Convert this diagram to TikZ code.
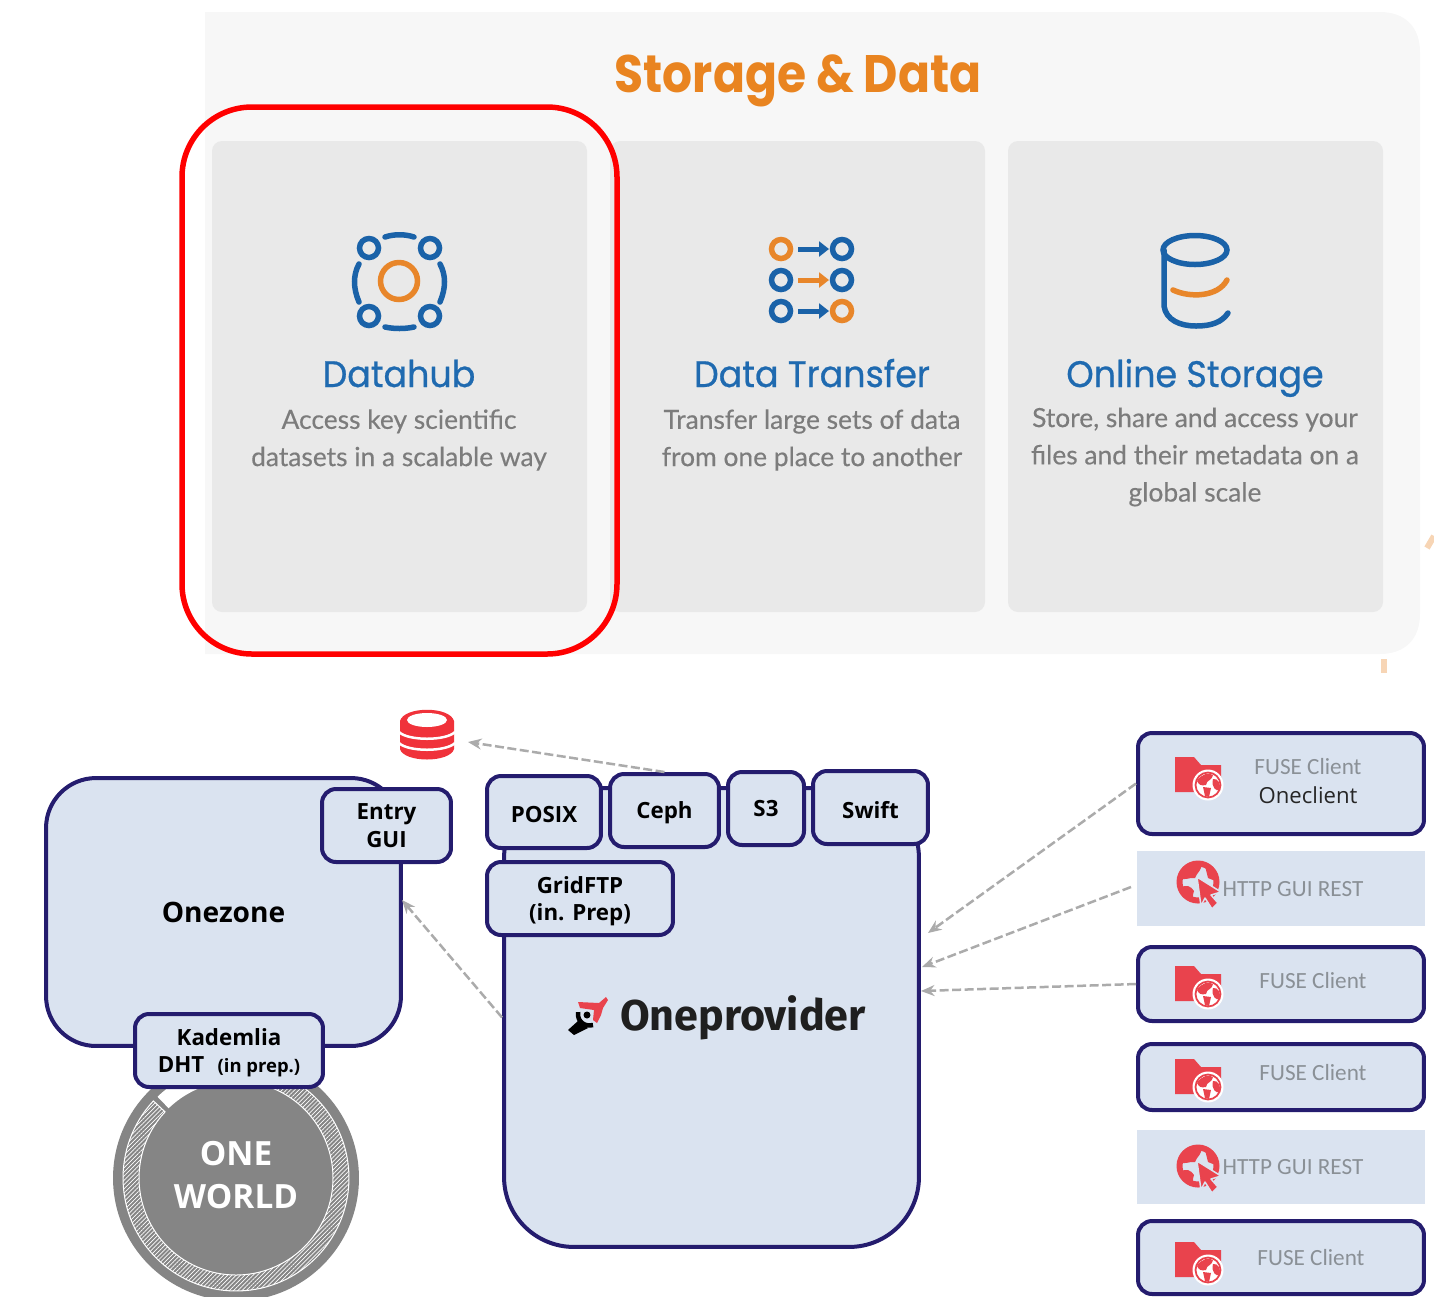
\documentclass[tikz,border=0pt]{standalone}
\usepackage{fontspec}
\usetikzlibrary{patterns.meta,arrows.meta}
\setmainfont{Open Sans}
\newfontfamily\titlefont[FakeStretch=0.895]{Poppins}
\newfontfamily\headfont[FakeStretch=0.945,FakeBold=0.7]{Poppins}
\newfontfamily\bodyfont[FakeBold=0.35]{Lato}
\newfontfamily\calfont{Carlito}
\newfontfamily\provfont{Fira Sans}
\newcommand{\lowered}{\rule{0pt}{12.5pt}}
\definecolor{navy}{HTML}{241C6E}
\definecolor{boxfill}{HTML}{DAE3F0}
\definecolor{panelbg}{HTML}{F7F7F7}
\definecolor{cardbg}{HTML}{E9E9E9}
\definecolor{iconblue}{HTML}{1A62A8}
\definecolor{iconorange}{HTML}{E8862A}
\definecolor{headblue}{HTML}{1F6AB0}
\definecolor{titleorange}{HTML}{E98420}
\definecolor{bodygray}{HTML}{7C7C7C}
\definecolor{iconred}{HTML}{E9434D}
\definecolor{dbred}{HTML}{F0323A}
\definecolor{dashgray}{HTML}{ABABAB}
\definecolor{labelgray}{HTML}{8A9096}
\definecolor{ringgray}{HTML}{858585}
\tikzset{
  cardbox/.style={fill=cardbg,rounded corners=0.2cm},
  navybox/.style={draw=navy,line width=0.08cm,fill=boxfill,rounded corners=0.28cm,inner sep=0pt,align=center,
     font=\fontsize{12.7}{15.6}\selectfont\bfseries,text=black},
  softbox/.style={fill=boxfill,inner sep=0pt},
  plaintext/.style={inner sep=0pt,align=center},
  cardhead/.style={plaintext,anchor=base,text=headblue,font=\headfont\fontsize{21}{25}\selectfont},
  cardtext/.style={plaintext,text=bodygray,font=\bodyfont\fontsize{15}{21.2}\selectfont},
  graylabel/.style={plaintext,text=labelgray,font=\calfont\fontsize{13.2}{15}\selectfont},
  dashlink/.style={draw=dashgray,line width=0.05cm,dash pattern=on 0.18cm off 0.07cm,
     -{Stealth[length=0.27cm,width=0.22cm]}},
  iconline/.style={draw=iconblue,line width=0.11cm,line cap=round},
  orangeline/.style={draw=iconorange,line width=0.11cm,line cap=round},
  folderglobe/.pic={
    \fill[iconred] (0,0) -- (19,0) -- (26,8) -- (46,8) -- (46,35) -- (0,35) -- cycle;
    \fill[white] (33,28) circle[radius=0.31cm];
    \draw[iconred,line width=0.035cm] (33,28) circle[radius=0.25cm];
    \fill[iconred] (22,24) .. controls (26,17) and (34,15) .. (38,18) .. controls (36,25) and (32,22) .. (31,28) .. controls (26,29) and (24,28) .. (22,24) -- cycle;
    \fill[iconred] (28,30) -- (36,31) -- (34,40) -- (30,39) -- cycle;
    \fill[iconred] (38,22) .. controls (43,21) and (46,27) .. (45,33) .. controls (41,35) and (36,30) .. (38,22) -- cycle;
  },
  webcursor/.pic={
    \draw[iconred,line width=0.12cm] (0,0) circle[radius=0.37cm];
    \fill[iconred] (-19,-4) .. controls (-12,-15) and (-5,-19) .. (3,-19) .. controls (5,-12) and (-1,-10) .. (-3,-4) .. controls (-9,-5) and (-12,-1) .. (-19,-4) -- cycle;
    \fill[iconred] (-18,6) .. controls (-12,2) and (-7,4) .. (-4,9) .. controls (-6,14) and (-4,16) .. (-7,19) .. controls (-12,16) and (-16,11) .. (-18,6) -- cycle;
    \fill[iconred] (7,-16) .. controls (13,-12) and (18,-6) .. (20,0) -- (10,-4) -- cycle;
    \filldraw[iconred,draw=boxfill,line width=0.03cm,line join=round] (-1,-5) -- (23,10) -- (13,13) -- (20,21) -- (14,27) -- (7,16) -- (3,24) -- cycle;
  },
}
\begin{document}
\begin{tikzpicture}[x=0.02cm,y=-0.02cm]
\useasboundingbox (0,0) rectangle (1434,1296);
\clip (0,0) rectangle (1434,1296);
% --- upper panel
\fill[panelbg] (205,12) -- (1380,12) .. controls (1405,12) and (1420,27) .. (1420,52) -- (1420,614) .. controls (1420,639) and (1405,654) .. (1380,654) -- (205,654) -- cycle;
\fill[cardbox] (212,141) rectangle (587,612);
\fill[cardbox] (610,141) rectangle (985,612);
\fill[cardbox] (1008,141) rectangle (1383,612);
\draw[iconorange!35,line width=0.12cm] (1427,548) -- (1434,536);
\draw[iconorange!35,line width=0.12cm] (1384,659) -- (1384,673);
\node[plaintext,text=titleorange,font=\titlefont\fontsize{30}{36}\selectfont\bfseries] (title) at (798,81) {Storage \& Data};
\node[cardhead] (hubhead) at (399,387) {Datahub};
\node[cardhead] (transferhead) at (812,387) {Data Transfer};
\node[cardhead] (storagehead) at (1195,387) {Online Storage};
\node[cardtext] (hubtext) at (399,440) {Access key scientific\\datasets in a scalable way};
\node[cardtext] (transfertext) at (812,440) {Transfer large sets of data\\from one place to another};
\node[cardtext] (storagetext) at (1195,457) {Store, share and access your\\files and their metadata on a\\global scale};
% datahub icon
\foreach \px/\py in {369/248,430/248,369/316,430/316}{\draw[iconline] (\px,\py) circle[radius=0.19cm];}
\draw[orangeline] (399,281) circle[radius=0.37cm];
\draw[iconline] (385,237) .. controls (394,234) and (405,234) .. (414,237);
\draw[iconline] (385,327) .. controls (394,329) and (405,329) .. (414,327);
\draw[iconline] (359,264) .. controls (353,275) and (353,288) .. (359,302);
\draw[iconline] (440,264) .. controls (446,275) and (446,288) .. (440,302);
% transfer icon
\foreach \py/\lc/\rc/\ac in {249/iconorange/iconblue/iconblue,280/iconblue/iconblue/iconorange,311/iconblue/iconorange/iconblue}{
  \draw[draw=\lc,line width=0.11cm] (781,\py) circle[radius=0.19cm];
  \draw[draw=\rc,line width=0.11cm] (842,\py) circle[radius=0.19cm];
  \draw[draw=\ac,line width=0.1cm,-{Triangle[length=0.2cm,width=0.3cm]}] (798,\py) -- (829,\py);
}
% storage icon
\draw[iconline] (1195,250) ellipse[x radius=0.64cm,y radius=0.29cm];
\draw[iconline] (1164,250) -- (1164,306) .. controls (1166,320) and (1180,326) .. (1196,326) .. controls (1212,326) and (1222,322) .. (1228,313);
\draw[orangeline] (1173,290) .. controls (1190,298) and (1218,297) .. (1227,280);
\draw[red,line width=0.11cm,rounded corners=1.4cm] (182,107) rectangle (617,654);
% --- lower diagram: database
\fill[dbred] (400,721) -- (400,749) .. controls (404,763) and (450,763) .. (454,749) -- (454,721) .. controls (450,706) and (404,706) .. (400,721) -- cycle;
\fill[white] (427,720) ellipse[x radius=0.4cm,y radius=0.14cm];
\draw[white,line width=0.05cm] (399,732) .. controls (408,741) and (446,741) .. (455,732);
\draw[white,line width=0.05cm] (399,743) .. controls (408,752) and (446,752) .. (455,743);
\coordinate (dbtip) at (468,742);
% one world
\fill[ringgray] (236,1178) circle[radius=2.46cm];
\fill[white] (236,1178) ++(134:2.26cm) arc[start angle=134,end angle=105,radius=2.26cm] -- ++(105:-0.32cm) arc[start angle=105,end angle=134,radius=1.94cm] -- cycle;
\path[draw=white,line width=0.02cm,pattern={Lines[angle=45,distance=1.7pt,line width=0.4pt]},pattern color=white] (236,1178) ++(137:2.26cm) arc[start angle=137,end angle=430,radius=2.26cm] -- ++(70:-0.32cm) arc[start angle=430,end angle=137,radius=1.94cm] -- cycle;
\node[plaintext,text=white,font=\fontsize{19}{24.5}\selectfont\bfseries] (world) at (236,1175) {ONE\\WORLD};
% servers
\node[navybox,rounded corners=1cm,minimum width=7.1cm,minimum height=5.36cm,font=\fontsize{16}{19}\selectfont\bfseries] (onezone) at (223.5,912) {Onezone};
\node[navybox,minimum width=2.58cm,minimum height=1.46cm] (entry) at (386.5,825.5) {Entry\\GUI};
\node[navybox,minimum width=3.76cm,minimum height=1.46cm] (kademlia) at (229,1050.5) {\lowered Kademlia\\DHT\hspace{0.6em}{\fontsize{10.5}{12}\selectfont (in prep.)}};
\node[navybox,rounded corners=1.4cm,minimum width=8.3cm,minimum height=9.18cm] (provider) at (711.5,1017.5) {};
\node[plaintext,font=\provfont\fontsize{24.5}{30}\selectfont\bfseries,text=black!88] (providername) at (743,1018) {Oneprovider};
\node[navybox,minimum width=2.28cm,minimum height=1.44cm] (posix) at (544,812) {\lowered POSIX};
\node[navybox,minimum width=2.18cm,minimum height=1.46cm] (ceph) at (664.5,810.5) {\lowered Ceph};
\node[navybox,minimum width=1.52cm,minimum height=1.46cm] (sthree) at (766,808.5) {S3};
\node[navybox,minimum width=2.3cm,minimum height=1.46cm] (swift) at (870.5,807.5) {\lowered Swift};
\node[navybox,minimum width=3.72cm,minimum height=1.46cm] (gridftp) at (580,898.5) {\lowered GridFTP\\(in. Prep)};
% oneprovider logo
\fill[iconred] (578,1002) -- (599,1003) -- (606,997) -- (608,1000) -- (603,1008) -- (601,1015) -- (597,1023) -- (593,1020) -- (594,1010) -- (580,1008) -- cycle;
\draw[black,line width=0.09cm] (578,1012) .. controls (577,1022) and (585,1027) .. (593,1025);
\fill[black] (587,1015) circle[radius=0.07cm];
\fill[black] (578,1021) -- (588,1028) -- (574,1035) -- (568,1030) -- cycle;
% clients
\node[navybox,minimum width=5.72cm,minimum height=2.02cm] (oneclient) at (1281,783.5) {};
\node[softbox,minimum width=5.76cm,minimum height=1.5cm] (httpa) at (1281,888.5) {};
\node[navybox,minimum width=5.72cm,minimum height=1.48cm] (fusea) at (1281,984) {};
\node[navybox,minimum width=5.72cm,minimum height=1.32cm] (fuseb) at (1281,1077) {};
\node[softbox,minimum width=5.76cm,minimum height=1.48cm] (httpb) at (1281,1167) {};
\node[navybox,minimum width=5.72cm,minimum height=1.46cm] (fusec) at (1281,1257.5) {};
\node[graylabel] (la) at (1308,767) {FUSE Client};
\node[plaintext,font=\fontsize{12.6}{15}\selectfont,text=black!85] (lb) at (1308,795) {Oneclient};
\node[graylabel] (lc) at (1293,889) {HTTP GUI REST};
\node[graylabel] (ld) at (1313,981) {FUSE Client};
\node[graylabel] (le) at (1313,1073) {FUSE Client};
\node[graylabel] (lf) at (1293,1167) {HTTP GUI REST};
\node[graylabel] (lg) at (1311,1258) {FUSE Client};
\pic at (1175,757) {folderglobe};
\pic at (1175,966) {folderglobe};
\pic at (1175,1059) {folderglobe};
\pic at (1175,1242) {folderglobe};
\pic at (1198,882) {webcursor};
\pic at (1198,1166) {webcursor};
% connectors
\coordinate (provtipa) at (928,933);
\coordinate (provtipb) at (922,967);
\coordinate (provtipc) at (921,991);
\coordinate (zonetip) at (402,900);
\coordinate (httpaout) at (1131,887);
\draw[dashlink] (ceph.north) -- (dbtip);
\draw[dashlink] (oneclient.west) -- (provtipa);
\draw[dashlink] (httpaout) -- (provtipb);
\draw[dashlink] (fusea.west) -- (provtipc);
\draw[dashlink] (provider.west) -- (zonetip);
\end{tikzpicture}
\end{document}
